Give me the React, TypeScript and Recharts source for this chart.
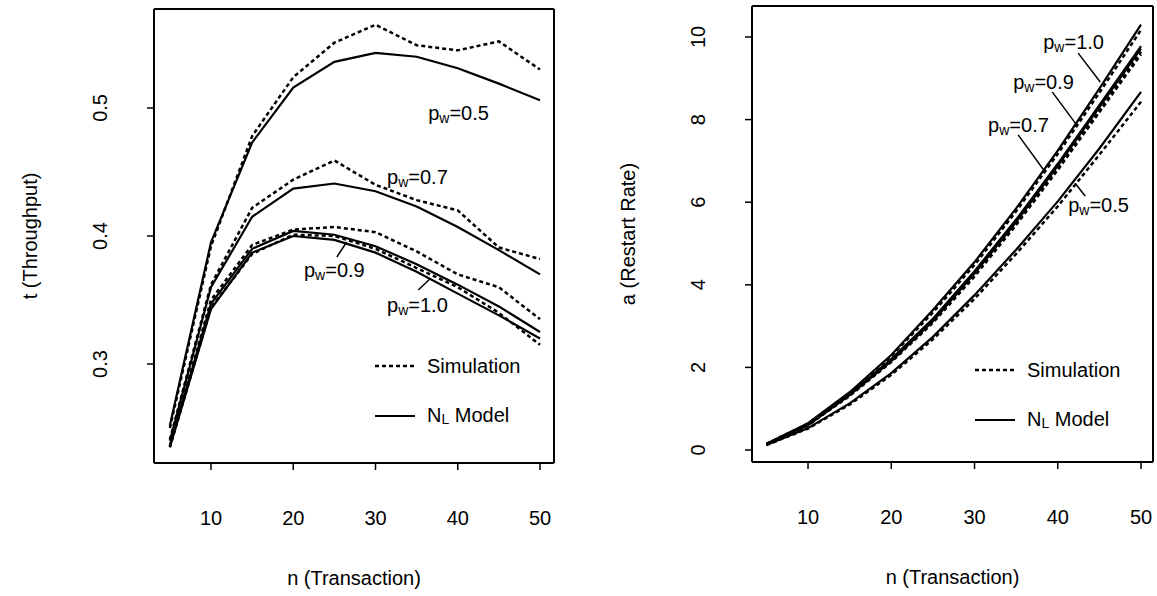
import React from "react";
import {
    LineChart,
    Line,
    XAxis,
    YAxis,
    Legend,
    ReferenceLine,
    ReferenceDot
} from "recharts";

const FONT = '"Liberation Sans", Arial, Helvetica, sans-serif';
const INK = "#000";

// transaction counts on the x axis
const nTx = [5, 10, 15, 20, 25, 30, 35, 40, 45, 50];
const xTicks = [10, 20, 30, 40, 50];

// throughput (left panel)
const thrSim05 = [0.25, 0.392, 0.478, 0.524, 0.551, 0.565, 0.549, 0.545, 0.552, 0.53];
const thrModel05 = [0.252, 0.395, 0.473, 0.516, 0.536, 0.543, 0.54, 0.531, 0.519, 0.506];
const thrSim07 = [0.241, 0.362, 0.422, 0.444, 0.459, 0.44, 0.428, 0.42, 0.391, 0.382];
const thrModel07 = [0.24, 0.36, 0.415, 0.437, 0.441, 0.435, 0.423, 0.407, 0.389, 0.37];
const thrSim09 = [0.236, 0.35, 0.393, 0.405, 0.407, 0.403, 0.388, 0.37, 0.36, 0.335];
const thrModel09 = [0.236, 0.347, 0.39, 0.404, 0.401, 0.392, 0.378, 0.362, 0.345, 0.325];
const thrSim10 = [0.235, 0.344, 0.386, 0.401, 0.4, 0.39, 0.375, 0.36, 0.34, 0.315];
const thrModel10 = [0.235, 0.343, 0.387, 0.4, 0.397, 0.387, 0.372, 0.355, 0.338, 0.32];
const thrTicks = [0.3, 0.4, 0.5];

// restart rate (right panel)
const rstSim05 = [0.12, 0.52, 1.1, 1.82, 2.68, 3.66, 4.75, 5.9, 7.15, 8.43];
const rstModel05 = [0.12, 0.53, 1.13, 1.86, 2.74, 3.75, 4.85, 6.02, 7.3, 8.67];
const rstSim07 = [0.14, 0.6, 1.31, 2.13, 3.08, 4.2, 5.45, 6.78, 8.18, 9.58];
const rstModel07 = [0.14, 0.6, 1.33, 2.15, 3.12, 4.27, 5.52, 6.88, 8.3, 9.72];
const rstSim09 = [0.14, 0.61, 1.33, 2.16, 3.12, 4.26, 5.5, 6.83, 8.22, 9.64];
const rstModel09 = [0.14, 0.62, 1.35, 2.2, 3.18, 4.33, 5.58, 6.93, 8.35, 9.78];
const rstSim10 = [0.15, 0.64, 1.38, 2.27, 3.33, 4.48, 5.78, 7.17, 8.65, 10.17];
const rstModel10 = [0.15, 0.65, 1.4, 2.3, 3.39, 4.55, 5.85, 7.25, 8.75, 10.3];
const rstTicks = [0, 2, 4, 6, 8, 10];

const thrRows = nTx.map((n, i) => ({
    n,
    s05: thrSim05[i], m05: thrModel05[i],
    s07: thrSim07[i], m07: thrModel07[i],
    s09: thrSim09[i], m09: thrModel09[i],
    s10: thrSim10[i], m10: thrModel10[i]
}));

const rstRows = nTx.map((n, i) => ({
    n,
    s05: rstSim05[i], m05: rstModel05[i],
    s07: rstSim07[i], m07: rstModel07[i],
    s09: rstSim09[i], m09: rstModel09[i],
    s10: rstSim10[i], m10: rstModel10[i]
}));

const seriesKeys = ["05", "07", "09", "10"];

const XTick = (props: any) => {
    const { x, y, payload } = props;
    return (
        <text x={x} y={y + 46} textAnchor="middle" dominantBaseline="central"
            fontFamily={FONT} fontSize={20} fill={INK}>
            {payload.value}
        </text>
    );
};

const YTick = (props: any) => {
    const { x, y, payload } = props;
    const lx = x - 45;
    return (
        <text x={lx} y={y} textAnchor="middle" dominantBaseline="central"
            transform={`rotate(-90, ${lx}, ${y})`}
            fontFamily={FONT} fontSize={20} fill={INK}>
            {payload.value}
        </text>
    );
};

const xTitle = (text: string) => (props: any) => {
    const vb = props.viewBox;
    return (
        <text x={vb.x + vb.width / 2} y={vb.y + 115} textAnchor="middle" dominantBaseline="central"
            fontFamily={FONT} fontSize={20} fill={INK}>
            {text}
        </text>
    );
};

const yTitle = (text: string) => (props: any) => {
    const vb = props.viewBox;
    const cx = vb.x + vb.width - 124;
    const cy = vb.y + vb.height / 2;
    return (
        <text x={cx} y={cy} textAnchor="middle" dominantBaseline="central"
            transform={`rotate(-90, ${cx}, ${cy})`}
            fontFamily={FONT} fontSize={20} fill={INK}>
            {text}
        </text>
    );
};

const pwLabel = (value: string) => (props: any) => {
    const vb = props.viewBox;
    return (
        <text x={vb.x} y={vb.y} dominantBaseline="central" fontFamily={FONT} fontSize={20} fill={INK}>
            p<tspan fontSize={14} dy={5}>w</tspan><tspan dy={-5}>={value}</tspan>
        </text>
    );
};

const renderLegend = () => (
    <div style={{ fontFamily: FONT, fontSize: 20, color: INK, lineHeight: "20px" }}>
        <div style={{ display: "flex", alignItems: "center", height: 50 }}>
            <svg width={40} height={6}>
                <line x1={0} y1={3} x2={40} y2={3} stroke={INK} strokeWidth={2.5} strokeDasharray="4 3" />
            </svg>
            <span style={{ marginLeft: 12 }}>Simulation</span>
        </div>
        <div style={{ display: "flex", alignItems: "center", height: 50 }}>
            <svg width={40} height={6}>
                <line x1={0} y1={3} x2={40} y2={3} stroke={INK} strokeWidth={2.2} />
            </svg>
            <span style={{ marginLeft: 12 }}>N<span style={{ fontSize: 14, position: "relative", top: 2 }}>L</span> Model</span>
        </div>
    </div>
);

const seriesLines = () =>
    seriesKeys.flatMap(k => [
        <Line key={`s${k}`} type="linear" dataKey={`s${k}`} stroke={INK} strokeWidth={2.5}
            strokeDasharray="4 3" dot={false} isAnimationActive={false} />,
        <Line key={`m${k}`} type="linear" dataKey={`m${k}`} stroke={INK} strokeWidth={2.2}
            dot={false} isAnimationActive={false} />
    ]);

const leader = (a: [number, number], b: [number, number], key: string) => (
    <ReferenceLine key={key} segment={[{ x: a[0], y: a[1] }, { x: b[0], y: b[1] }]}
        stroke={INK} strokeWidth={1.5} ifOverflow="visible" />
);

const pwDot = (x: number, y: number, value: string) => (
    <ReferenceDot key={`pw${value}`} x={x} y={y} r={0} fill="none" stroke="none"
        ifOverflow="visible" label={{ content: pwLabel(value) }} />
);

const axisStyle = { stroke: INK, strokeWidth: 2 };
const tickStyle = { stroke: INK, strokeWidth: 1.5 };

export default function App() {
    const thrX: [number, number] = [3.07, 51.7];
    const thrY: [number, number] = [0.2227, 0.5773];
    const rstX: [number, number] = [3.27, 51.44];
    const rstY: [number, number] = [-0.29, 10.75];

    return (
        <div style={{ position: "absolute", left: 0, top: 0, width: 1157, height: 596, background: "#fff" }}>
            <div style={{ position: "absolute", left: 0, top: 0 }}>
                <LineChart width={580} height={596} data={thrRows} margin={{ top: 9, right: 26, bottom: 0, left: 0 }}>
                    <XAxis dataKey="n" type="number" domain={thrX} ticks={xTicks} interval={0} allowDataOverflow
                        height={133} tickSize={7} axisLine={axisStyle} tickLine={tickStyle} tick={<XTick />}
                        label={{ content: xTitle("n (Transaction)") }} />
                    <YAxis type="number" domain={thrY} ticks={thrTicks} interval={0} allowDataOverflow
                        width={154} tickSize={7} axisLine={axisStyle} tickLine={tickStyle} tick={<YTick />}
                        label={{ content: yTitle("t (Throughput)") }} />
                    <ReferenceLine y={thrY[1]} stroke={INK} strokeWidth={2} />
                    <ReferenceLine x={thrX[1]} stroke={INK} strokeWidth={2} />
                    {seriesLines()}
                    {pwDot(36.4, 0.496, "0.5")}
                    {pwDot(31.4, 0.446, "0.7")}
                    {pwDot(21.3, 0.3734, "0.9")}
                    {pwDot(31.4, 0.346, "1.0")}
                    {leader([25.3, 0.3836], [26.5, 0.3953], "l09")}
                    {leader([35.2, 0.3578], [36.6, 0.3664], "l10")}
                    <Legend layout="horizontal" verticalAlign="middle" align="center" content={renderLegend}
                        wrapperStyle={{ left: 375, top: 341, width: 180, height: 100 }} />
                </LineChart>
            </div>
            <div style={{ position: "absolute", left: 600, top: 0 }}>
                <LineChart width={557} height={596} data={rstRows} margin={{ top: 6, right: 4, bottom: 0, left: 0 }}>
                    <XAxis dataKey="n" type="number" domain={rstX} ticks={xTicks} interval={0} allowDataOverflow
                        height={134} tickSize={7} axisLine={axisStyle} tickLine={tickStyle} tick={<XTick />}
                        label={{ content: xTitle("n (Transaction)") }} />
                    <YAxis type="number" domain={rstY} ticks={rstTicks} interval={0} allowDataOverflow
                        width={152} tickSize={7} axisLine={axisStyle} tickLine={tickStyle} tick={<YTick />}
                        label={{ content: yTitle("a (Restart Rate)") }} />
                    <ReferenceLine y={rstY[1]} stroke={INK} strokeWidth={2} />
                    <ReferenceLine x={rstX[1]} stroke={INK} strokeWidth={2} />
                    {seriesLines()}
                    {pwDot(38.25, 9.88, "1.0")}
                    {pwDot(34.64, 8.91, "0.9")}
                    {pwDot(31.63, 7.87, "0.7")}
                    {pwDot(41.25, 5.93, "0.5")}
                    {leader([42.45, 9.61], [45.1, 8.91], "r10")}
                    {leader([39.33, 8.67], [42.09, 7.92], "r09")}
                    {leader([35.24, 7.63], [38.49, 6.73], "r07")}
                    {leader([42.09, 6.46], [43.29, 6.15], "r05")}
                    <Legend layout="horizontal" verticalAlign="middle" align="center" content={renderLegend}
                        wrapperStyle={{ left: 375, top: 345, width: 180, height: 100 }} />
                </LineChart>
            </div>
        </div>
    );
}
